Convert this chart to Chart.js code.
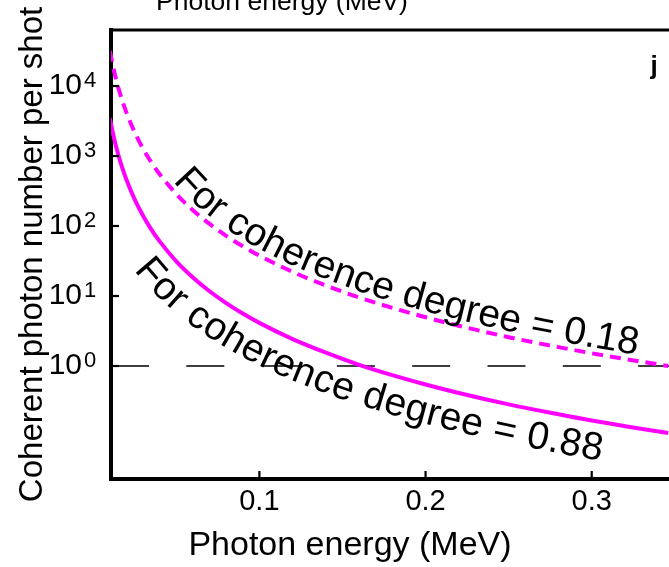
<!DOCTYPE html>
<html><head><meta charset="utf-8">
<script src="https://cdn.jsdelivr.net/npm/chart.js@4"></script>
<style>html,body{margin:0;padding:0;background:#fff;}#wrap{width:669px;height:567px;}</style>
</head><body><div id="wrap"><canvas id="c" width="669" height="567"></canvas></div>
<script>
// ---- data ----
const energy = [0.01,0.0125,0.015,0.0175,0.02,0.025,0.03,0.035,0.04,0.05,0.06,0.07,0.08,0.09,0.10,0.12,0.14,0.16,0.18,0.20,0.22,0.25,0.28,0.30,0.32,0.346];
const photonsDeg088 = [3470,1810,1060,675,457,238,140,88.9,60.3,31.3,18.4,11.7,7.93,5.62,4.13,2.42,1.55,1.04,0.741,0.545,0.412,0.283,0.204,0.166,0.138,0.110];
const photonsDeg018 = [31600,16500,9660,6150,4170,2170,1270,811,549,286,168,107,72.3,51.3,37.7,22.1,14.1,9.53,6.76,4.97,3.76,2.58,1.86,1.52,1.26,1.0];
const thresholdEnergy = [0.0107,0.3465];
const thresholdValue = [1,1];
const xTicks = [0.1,0.2,0.3];
const xTickLabels = ['0.1','0.2','0.3'];
const yTicks = [1,10,100,1000,10000];
const yTickBase = ['10','10','10','10','10'];
const yTickExponent = ['0','1','2','3','4'];
const label018 = 'For coherence degree = 0.18';
const label088 = 'For coherence degree = 0.88';
const xTitle = 'Photon energy (MeV)';
const yTitle = 'Coherent photon number per shot';
const panelLetter = 'j';

const FONT = '"Liberation Sans", Arial, Helvetica, sans-serif';
const MAG = '#ff00ff';

function pts(xs, ys){ return xs.map((x,i)=>({x:x,y:ys[i]})); }

function curvePoints(meta){
  const d = meta.data, out = [];
  for (let i=0;i<d.length-1;i++){
    const a=d[i], b=d[i+1];
    const has = a.cp2x!==undefined && b.cp1x!==undefined;
    for (let k=0;k<12;k++){
      const t=k/12;
      if (has){
        const u=1-t;
        out.push({x:u*u*u*a.x+3*u*u*t*a.cp2x+3*u*t*t*b.cp1x+t*t*t*b.x,
                  y:u*u*u*a.y+3*u*u*t*a.cp2y+3*u*t*t*b.cp1y+t*t*t*b.y});
      } else out.push({x:a.x+(b.x-a.x)*t,y:a.y+(b.y-a.y)*t});
    }
  }
  const l=d[d.length-1]; out.push({x:l.x,y:l.y});
  return out;
}

function textOnCurve(ctx, base, side, dist, startX, text, font, spacing){
  const n=base.length, off=[];
  for (let i=0;i<n;i++){
    const a=base[Math.max(0,i-1)], b=base[Math.min(n-1,i+1)];
    let tx=b.x-a.x, ty=b.y-a.y; const L=Math.hypot(tx,ty)||1; tx/=L; ty/=L;
    let nx=ty, ny=-tx; if (side==='below'){nx=-nx;ny=-ny;}
    off.push({x:base[i].x+nx*dist,y:base[i].y+ny*dist});
  }
  const s=[0];
  for (let i=1;i<n;i++) s.push(s[i-1]+Math.hypot(off[i].x-off[i-1].x,off[i].y-off[i-1].y));
  function at(len){
    let i=1; while(i<n-1 && s[i]<len) i++;
    const seg=s[i]-s[i-1]||1, t=(len-s[i-1])/seg;
    return {x:off[i-1].x+(off[i].x-off[i-1].x)*t, y:off[i-1].y+(off[i].y-off[i-1].y)*t,
            a:Math.atan2(off[i].y-off[i-1].y, off[i].x-off[i-1].x)};
  }
  let s0=0;
  for (let i=1;i<n;i++){ if (off[i].x>=startX){ const t=(startX-off[i-1].x)/((off[i].x-off[i-1].x)||1); s0=s[i-1]+(s[i]-s[i-1])*t; break; } }
  ctx.save(); ctx.font=font; ctx.fillStyle='#000'; ctx.textAlign='center'; ctx.textBaseline='alphabetic';
  let cur=s0;
  for (const ch of text){
    const w=ctx.measureText(ch).width;
    const p=at(cur+w/2);
    ctx.save(); ctx.translate(p.x,p.y); ctx.rotate(p.a); ctx.fillText(ch,0,0); ctx.restore();
    cur+=w+(spacing||0);
  }
  ctx.restore();
}

const decor = {
  id:'decor',
  afterDraw(chart){
    const {ctx, chartArea:ca, scales} = chart;
    ctx.save();
    ctx.strokeStyle='#000'; ctx.lineWidth=3;
    ctx.beginPath(); ctx.moveTo(ca.left-2, ca.top); ctx.lineTo(chart.width, ca.top); ctx.stroke();
    ctx.lineWidth=2.2;
    yTicks.forEach(v=>{ const py=scales.y.getPixelForValue(v); ctx.beginPath(); ctx.moveTo(ca.left,py); ctx.lineTo(ca.left+8,py); ctx.stroke(); });
    xTicks.forEach(v=>{ const px=scales.x.getPixelForValue(v); ctx.beginPath(); ctx.moveTo(px,ca.bottom); ctx.lineTo(px,ca.bottom-8); ctx.stroke(); });
    ctx.fillStyle='#000'; ctx.textBaseline='alphabetic';
    ctx.font='22px '+FONT; ctx.textAlign='left';
    yTicks.forEach((v,i)=>{ const py=scales.y.getPixelForValue(v); ctx.fillText(yTickExponent[i], 84, py+1); });
    ctx.textAlign='center';
    ctx.font='bold 26px '+FONT;
    ctx.fillText(panelLetter, 654, 74);
    ctx.font='26.5px '+FONT;
    ctx.fillText(xTitle, 282, 10);
    ctx.font='34px '+FONT;
    ctx.fillText(xTitle, 350, 555);
    ctx.restore();
    textOnCurve(ctx, curvePoints(chart.getDatasetMeta(1)), 'above', 6, 173, label018, '39px '+FONT, 0);
    textOnCurve(ctx, curvePoints(chart.getDatasetMeta(0)), 'below', 38, 134, label088, '39px '+FONT, 0.4);
  }
};

new Chart(document.getElementById('c'), {
  type:'line',
  data:{ datasets:[
    {label:label088, data:pts(energy,photonsDeg088), borderColor:MAG, borderWidth:4, pointRadius:0, cubicInterpolationMode:'monotone', fill:false},
    {label:label018, data:pts(energy,photonsDeg018), borderColor:MAG, borderWidth:4, borderDash:[11,7], pointRadius:0, cubicInterpolationMode:'monotone', fill:false},
    {label:'threshold', data:pts(thresholdEnergy,thresholdValue), borderColor:'#000', borderWidth:1.6, borderDash:[38,37.3], pointRadius:0, fill:false}
  ]},
  options:{
    responsive:false, animation:false, devicePixelRatio:1,
    layout:{padding:{top:30,right:0,left:0,bottom:0}},
    plugins:{legend:{display:false}, tooltip:{enabled:false}},
    scales:{
      x:{ type:'linear', min:0.0107, max:0.3465,
        afterBuildTicks:s=>{ s.ticks = xTicks.map(v=>({value:v})); },
        afterFit:s=>{ s.height = 88; s.paddingLeft = 0; s.paddingRight = 0; },
        ticks:{ callback:(v)=>xTickLabels[xTicks.indexOf(v)] ?? '', font:{family:FONT,size:29}, color:'#000', padding:6, maxRotation:0, autoSkip:false },
        grid:{display:false, drawTicks:false},
        border:{display:true, color:'#000', width:4},
        title:{display:false}
      },
      y:{ type:'logarithmic', min:0.0243, max:63100,
        afterBuildTicks:s=>{ s.ticks = yTicks.map(v=>({value:v})); },
        afterFit:s=>{ s.width = 111; s.paddingTop = 0; s.paddingBottom = 0; },
        ticks:{ callback:(v)=>yTickBase[yTicks.indexOf(v)] ?? '', font:{family:FONT,size:30}, color:'#000', padding:29, autoSkip:false },
        grid:{display:false, drawTicks:false},
        border:{display:true, color:'#000', width:4},
        title:{display:true, text:yTitle, color:'#000', font:{family:FONT,size:33}, padding:{top:13,bottom:0}}
      }
    }
  },
  plugins:[decor]
});
</script>
</body></html>
